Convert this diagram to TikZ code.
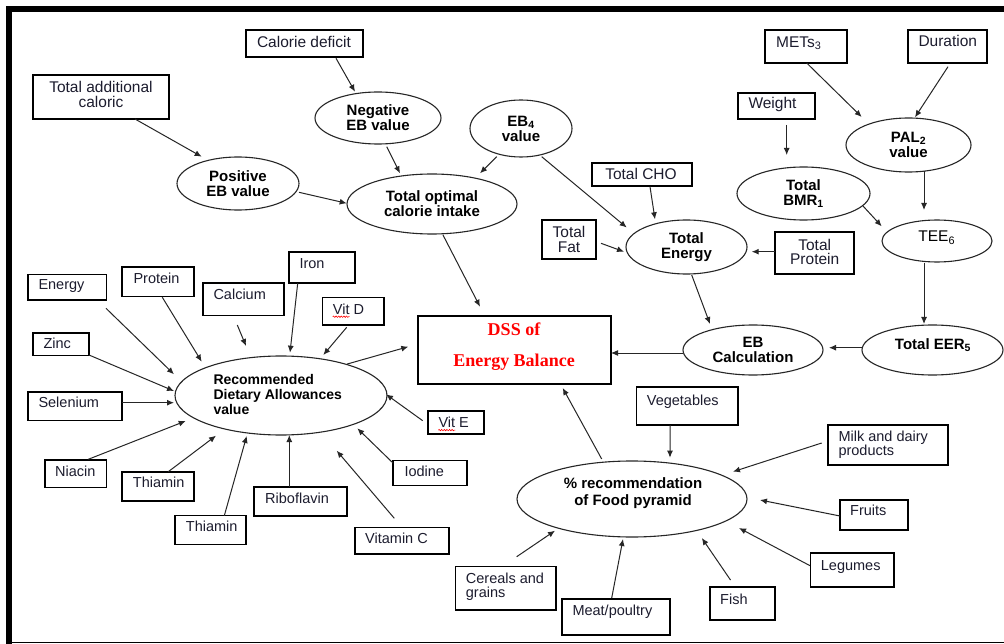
\documentclass[tikz,border=0pt]{standalone}
\usepackage{fontspec}
\setmainfont{Liberation Sans}
\newfontfamily\dssfont{Liberation Serif}
\usetikzlibrary{calc,shapes.geometric,arrows.meta,decorations.pathmorphing}

\definecolor{ink}{RGB}{28,28,46}
\definecolor{edge}{RGB}{38,38,38}

\tikzset{
  bx/.style={draw=black, line width=1.1pt, rectangle, inner sep=0pt},
  bt/.style={anchor=base west, inner sep=0pt, text=ink, align=left,
             font=\fontsize{14.5}{14}\selectfont},
  topfont/.style={font=\fontsize{15.5}{14.8}\selectfont},
  ell/.style={draw=edge, line width=1.1pt, ellipse, inner sep=1pt, align=center,
              text=black, font=\bfseries\fontsize{15}{15}\selectfont},
  et/.style={inner sep=0pt, align=center, text=black,
             font=\bfseries\fontsize{15}{15}\selectfont},
  arr/.style={draw=edge, line width=1pt, -{Latex[length=7pt,width=6pt]}},
  squiggle/.style={draw=red, line width=0.6pt, decorate,
                   decoration={snake, amplitude=0.7pt, segment length=2.6pt}},
}

% rectangle with its label: [label opts]{name}{x1}{y1}{x2}{y2}{label x}{label y}{label}
\newcommand\labbox[9][]{%
  \node[bx, minimum width={#5-#3}, minimum height={#6-#4}] (#2) at ({(#3+#5)/2},{(#4+#6)/2}) {};
  \node[bt,#1] (#2-t) at (#7,#8) {#9};
}
% arrow between two named nodes, each end offset from the node centre
\newcommand\arrowlink[4]{\draw[arr] ($(#1)+(#2)$) -- ($(#3)+(#4)$);}

\begin{document}
\begin{tikzpicture}[x=1pt,y=-1pt]
\useasboundingbox (0,0) rectangle (1004,644);
\fill[white] (0,0) rectangle (1004,644);

% frame
\fill[black] (6,6) rectangle (12,644);
\fill[black] (6,6) rectangle (1004,12);
\draw[black, line width=1.2pt] (12,642.5) -- (1004,642.5);

% ---- upper left: calorie intake ----
\labbox[topfont, anchor=center, align=center]{addcal}{33}{75}{169}{119}{101}{94.4}{Total additional\\caloric}
\labbox[topfont, anchor=center]{deficit}{246}{30}{363}{57}{304}{41.5}{Calorie deficit}
\node[ell, minimum width=126, minimum height=52] (neg) at (378,118) {Negative\\EB value};
\node[ell, minimum width=122, minimum height=53] (pos) at (238,183.5) {Positive\\EB value};
\node[ell, minimum width=170, minimum height=60] (opt) at (432,204) {Total optimal\\calorie intake};
\node[ell, minimum width=102, minimum height=57] (eb4) at (521,128.5) {EB\textsubscript{4}\\value};

% ---- upper right: energy requirement ----
\labbox[topfont]{mets}{765}{30}{847}{63}{776}{47.2}{METs\textsubscript{3}}
\labbox[topfont]{duration}{908}{30}{987}{63}{918.3}{46.8}{Duration}
\labbox[topfont]{weight}{738}{93}{815}{119}{748.3}{108.8}{Weight}
\node[ell, minimum width=125, minimum height=54] (pal) at (908.5,145) {PAL\textsubscript{2}\\value};
\node[ell, minimum width=133, minimum height=53] (bmr) at (803.5,193.5) {Total\\BMR\textsubscript{1}};
\node[ell, minimum width=110, minimum height=42] (tee) at (937,241) {};
\node[et, font=\fontsize{15.5}{15}\selectfont] (tee-t) at (936.7,237.8) {TEE\textsubscript{6}};
\node[ell, minimum width=141, minimum height=50] (eer) at (932.5,350) {};
\node[et] (eer-t) at (933,345) {Total EER\textsubscript{5}};

% ---- middle: total energy ----
\labbox[topfont, anchor=center]{cho}{592}{163}{692}{186}{641}{174.3}{Total CHO}
\labbox[topfont, anchor=center, align=center]{fat}{542}{220}{596}{259}{569}{239.6}{Total\\Fat}
\labbox[topfont, anchor=center, align=center]{protein}{775}{232}{854}{274}{814.7}{252}{Total\\Protein}
\node[ell, minimum width=121, minimum height=54] (tenergy) at (686.5,247) {Total\\Energy};
\node[ell, minimum width=140, minimum height=50] (ebcalc) at (753,350) {EB\\Calculation};

% ---- centre: decision support system ----
\node[bx, minimum width=193, minimum height=68] (dss) at (514.5,350) {};
\node[inner sep=0pt, text=red, align=center,
      font=\dssfont\bfseries\fontsize{18}{31}\selectfont] (dss-t) at (514,346.4) {DSS of\\Energy Balance};

% ---- lower left: recommended dietary allowances ----
\node[ell, minimum width=212, minimum height=79] (rda) at (281,395.5) {};
\node[et, anchor=west, align=left, font=\bfseries\fontsize{14}{15}\selectfont] (rda-t) at (213.3,394) {Recommended\\Dietary Allowances\\value};
\labbox{energyb}{28}{274.3}{106.7}{300}{38.3}{289.5}{Energy}
\labbox{proteinb}{122}{267}{194}{296.7}{133.3}{283.5}{Protein}
\labbox{calcium}{203}{283}{284}{315.7}{213.3}{299.2}{Calcium}
\labbox{iron}{289}{252}{355}{283}{299.3}{268.5}{Iron}
\labbox{vitd}{322.7}{297.7}{384}{325}{332.7}{314.5}{Vit D}
\labbox{zinc}{33}{333}{89}{355.7}{43.3}{348.5}{Zinc}
\labbox{selenium}{28}{392}{122}{420.7}{38.3}{407.9}{Selenium}
\labbox{niacin}{45}{460}{106.7}{487.7}{55}{476.9}{Niacin}
\labbox{thiamina}{122}{472}{194}{501}{132.7}{487.9}{Thiamin}
\labbox{thiaminb}{175}{515.7}{246}{544.3}{185.7}{531.9}{Thiamin}
\labbox{ribo}{254}{487}{347}{516}{265}{503.5}{Riboflavin}
\labbox{vitc}{355}{527.7}{449}{554}{365}{543.5}{Vitamin C}
\labbox{iodine}{393}{460.7}{467}{485.7}{404.3}{476.9}{Iodine}
\labbox{vite}{428}{411}{484}{434}{438.3}{427.9}{Vit E}
\draw[squiggle] ($(vitd-t.base west)+(0,2.2)$) -- ++(17,0);
\draw[squiggle] ($(vite-t.base west)+(0,2.2)$) -- ++(17,0);

% ---- lower right: food pyramid ----
\node[ell, minimum width=230, minimum height=76] (food) at (632,499) {};
\node[et, font=\bfseries\fontsize{15}{17.4}\selectfont] (food-t) at (633,493) {\% recommendation\\of Food pyramid};
\labbox{veg}{636.7}{387}{738}{425}{646.7}{405.9}{Vegetables}
\labbox[anchor=west]{milk}{828}{425}{948}{465}{838.3}{445.1}{Milk and dairy\\products}
\labbox{fruits}{840}{500}{908}{530}{850}{515.9}{Fruits}
\labbox{legumes}{810.7}{553}{894}{587}{820.7}{570.9}{Legumes}
\labbox{fish}{710}{587}{775}{620}{720}{604.2}{Fish}
\labbox{meat}{562}{599}{670}{635}{572.3}{615.2}{Meat/poultry}
\labbox[anchor=west]{cereals}{455.7}{566.7}{556}{610}{465.7}{586.7}{Cereals and\\grains}

% ---- connectors ----
\arrowlink{addcal}{34,22}{pos}{-36.3,-26.8}
\arrowlink{deficit}{31.5,14.8}{neg}{-23,-26.3}
\arrowlink{neg}{8.7,28.7}{opt}{-32,-30.7}
\arrowlink{pos}{61,8.8}{opt}{-85.3,-0.7}
\arrowlink{eb4}{-24.3,28.2}{opt}{48,-30.7}
\arrowlink{eb4}{20.7,28.2}{tenergy}{-59.8,-19.5}
\arrowlink{cho}{8,12.2}{tenergy}{-31.5,-27.7}
\arrowlink{fat}{32,3.8}{tenergy}{-62.5,4.7}
\arrowlink{protein}{-39.5,-1.3}{tenergy}{65.2,4.7}
\arrowlink{tenergy}{5.2,28}{ebcalc}{-43,-26}
\arrowlink{ebcalc}{-70,3}{dss}{96.5,3}
\arrowlink{eer}{-69.5,-2.3}{ebcalc}{76,-2.3}
\arrowlink{tee}{-13,21.7}{eer}{-8.5,-26}
\arrowlink{pal}{15.5,26}{tee}{-13,-31}
\arrowlink{bmr}{59.5,12.5}{tee}{-55.3,-14.7}
\arrowlink{weight}{10.2,19}{bmr}{-16.8,-38.5}
\arrowlink{mets}{0.7,16.5}{pal}{-46.8,-28}
\arrowlink{duration}{0.5,20.2}{pal}{6.5,-27.7}
\arrowlink{opt}{11,31}{dss}{-34.5,-43.3}
\arrowlink{rda}{66.3,-31.5}{dss}{-106.2,-3.3}
\arrowlink{food}{-30.3,-40}{dss}{48.2,38}

\arrowlink{energyb}{38.65,21.15}{rda}{-107,-21.2}
\arrowlink{proteinb}{4.3,15.45}{rda}{-79.3,-33.8}
\arrowlink{calcium}{-6.2,25.65}{rda}{-35,-49.5}
\arrowlink{iron}{-24.3,15.8}{rda}{9,-42.8}
\arrowlink{vitd}{-6.65,15.95}{rda}{42.3,-40.5}
\arrowlink{zinc}{28,10.65}{rda}{-107,-4.5}
\arrowlink{selenium}{47,-3.65}{rda}{-107,7.2}
\arrowlink{niacin}{12.45,-14.55}{rda}{-95.3,25.5}
\arrowlink{thiamina}{10.3,-14.8}{rda}{-65,40.2}
\arrowlink{thiaminb}{13.8,-14.3}{rda}{-34.3,40.5}
\arrowlink{ribo}{-11.2,-14.5}{rda}{8.3,39.5}
\arrowlink{vitc}{-7.7,-22.55}{rda}{55.7,55.2}
\arrowlink{iodine}{-36.7,-9.9}{rda}{76.3,32.8}
\arrowlink{vite}{-33.3,-1.8}{rda}{105,-1.2}

\arrowlink{veg}{-17.35,19}{food}{38,-41.3}
\arrowlink{milk}{-66.3,-2}{food}{101,-27.3}
\arrowlink{fruits}{-34,1}{food}{128,1}
\arrowlink{legumes}{-42.35,-4.3}{food}{107,29}
\arrowlink{fish}{-12,-23.5}{food}{69.8,39}
\arrowlink{meat}{-4.3,-19}{food}{-9,40}
\arrowlink{cereals}{10.85,-31.65}{food}{-77,31.7}
\end{tikzpicture}
\end{document}
